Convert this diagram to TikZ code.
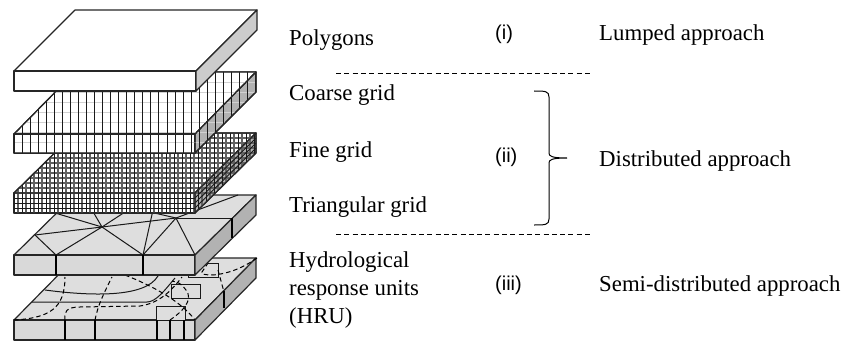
\documentclass[tikz,border=0pt]{standalone}
\usepackage{fontspec}
\setmainfont{Liberation Serif}
\newfontfamily\lblsans{Liberation Sans}
\begin{document}
\begin{tikzpicture}[x=1pt,y=-1pt,
  slabedge/.style={line width=1.2pt,black!85,line join=round},
  gridblack/.style={line width=.9pt,black!90},
  gridfaint/.style={line width=.8pt,black!18},
  gridmid/.style={line width=1.1pt,black!62},
  netline/.style={line width=1pt,black!90},
  thickv/.style={line width=1.6pt,black},
  dashln/.style={line width=1pt,black,dash pattern=on 4.5pt off 3pt},
  topfill/.style={fill=black!13},
  frontfill/.style={fill=black!15},
  sidefill/.style={fill=black!30},
  lbl/.style={font=\fontsize{22.8}{26}\selectfont,anchor=base west,inner sep=0pt},
  tagtxt/.style={font=\lblsans\fontsize{20}{24}\selectfont,anchor=base west,inner sep=0pt},
  ruleln/.style={line width=.8pt,black,dash pattern=on 5pt off 3.3pt}]
\useasboundingbox (0,0) rectangle (845,342);
\fill[white] (0,0) rectangle (845,342);
%
% ---- HRU slab
\filldraw[slabedge,topfill] (14,320) -- (75,258) -- (256,258) -- (195,320) -- cycle;
\filldraw[slabedge,frontfill] (14,320) rectangle (195,340);
\filldraw[slabedge,sidefill] (195,320) -- (256,258) -- (256,278) -- (195,340) -- cycle;
\draw[netline] (45,290) .. controls (90,296) and (145,298) .. (158,276);
\draw[netline] (32,302) -- (147,302) .. controls (156,302) and (165,290) .. (175,278);
\draw[netline] (188,263) rectangle (218,277);
\draw[netline,fill=black!13] (171,284) rectangle (200,298);
\draw[netline,fill=black!13] (156,306) rectangle (185,320);
\draw[dashln] (14,320) .. controls (50,318) and (65,308) .. (65,277);
\draw[dashln] (95,320) .. controls (98,305) and (103,295) .. (112,277);
\draw[dashln] (65,320) .. controls (64,312) and (66,307) .. (80,307) -- (140,306) .. controls (160,303) and (172,290) .. (182,277);
\draw[dashln] (125,275) .. controls (150,285) and (180,300) .. (195,320);
\draw[dashln] (170,320) .. controls (182,312) and (194,300) .. (186,290) .. controls (182,284) and (178,282) .. (172,281);
\draw[dashln] (257,258) .. controls (240,270) and (225,274) .. (213,275) .. controls (205,275) and (200,274) .. (202,272) -- (208,263);
\draw[dashln] (218,270) -- (224,292);
\draw[thickv] (65,320) -- (65,340) (95,320) -- (95,340) (157,320) -- (157,340) (170,320) -- (170,340) (184,320) -- (184,340);
\draw[thickv] (224,291) -- (224,308);
%
% ---- Triangular slab
\filldraw[slabedge,topfill] (14,255) -- (75,195) -- (256,195) -- (195,255) -- cycle;
\filldraw[slabedge,frontfill] (14,255) rectangle (195,275);
\filldraw[slabedge,sidefill] (195,255) -- (256,195) -- (256,215) -- (195,275) -- cycle;
\coordinate (tA) at (102,227);
\coordinate (tB) at (176,218);
\coordinate (tC) at (35,235);
\coordinate (tD) at (56,255);
\coordinate (tE) at (143,255);
\coordinate (tF) at (195,255);
\draw[netline] (tC) -- (tA) -- (tB) -- (238,195);
\draw[netline] (tB) -- (232,218);
\draw[netline] (55,213) -- (tA) -- (92,210);
\draw[netline] (125,212) -- (tA);
\draw[netline] (tC) -- (tD) -- (tA) -- (tE) -- (tB) -- (tF);
\draw[netline] (tE) -- (153,210);
\draw[netline] (tB) -- (150,212);
\draw[thickv] (56,255) -- (56,275) (143,255) -- (143,275);
\draw[thickv] (232,218) -- (232,238);
%
% ---- Fine grid slab
\filldraw[slabedge,fill=white] (14,193) -- (75,133) -- (256,133) -- (195,193) -- cycle;
\filldraw[slabedge,fill=white] (14,193) rectangle (195,213);
\filldraw[slabedge,sidefill] (195,193) -- (256,133) -- (256,153) -- (195,213) -- cycle;
\begin{scope}
  \clip (14,193) -- (75,133) -- (256,133) -- (256,153) -- (195,213) -- (14,213) -- cycle;
  \foreach \k in {0,...,31} \draw[gridmid] ({18+8*\k},130) -- ({18+8*\k},215);
  \foreach \k in {0,...,12} \draw[gridmid] (10,{133+5*\k}) -- (260,{133+5*\k});
  \foreach \k in {0,...,30} \draw[gridblack] ({14+8*\k},130) -- ({14+8*\k},215);
\end{scope}
\foreach \k in {1,2,3} \draw[gridblack] (14,{193+5*\k}) -- (195,{193+5*\k});
\draw[gridblack] (195,198) -- (256,138) (195,203) -- (256,143) (195,208) -- (256,148);
\draw[slabedge] (14,193) -- (75,133) -- (256,133) -- (256,153) -- (195,213) -- (14,213) -- cycle;
\draw[slabedge] (14,193) -- (195,193) -- (256,133) (195,193) -- (195,213);
%
% ---- Coarse grid slab
\filldraw[slabedge,fill=white] (14,134) -- (75,72) -- (256,72) -- (195,134) -- cycle;
\filldraw[slabedge,fill=white] (14,134) rectangle (195,153);
\filldraw[slabedge,sidefill] (195,134) -- (256,72) -- (256,92) -- (195,153) -- cycle;
\begin{scope}
  \clip (14,134) -- (75,72) -- (256,72) -- (256,92) -- (195,153) -- (14,153) -- cycle;
  \foreach \k in {0,...,8} \draw[gridfaint] (10,{72+10*\k}) -- (260,{72+10*\k});
  \foreach \k in {0,...,30} \draw[gridblack] ({14+8.05*\k},70) -- ({14+8.05*\k},155);
\end{scope}
\draw[slabedge] (14,134) -- (75,72) -- (256,72) -- (256,92) -- (195,153) -- (14,153) -- cycle;
\draw[slabedge] (14,134) -- (195,134) -- (256,72) (195,134) -- (195,153);
%
% ---- Top slab (polygons)
\filldraw[slabedge,fill=white] (14,71) -- (75,10) -- (257,10) -- (196,71) -- cycle;
\filldraw[slabedge,fill=white] (14,71) rectangle (196,91);
\filldraw[slabedge,fill=black!20] (196,71) -- (257,10) -- (257,30) -- (196,91) -- cycle;
%
% ---- Labels
\node[lbl] (polygons) at (289,46) {Polygons};
\node[lbl] (coarse) at (289,101) {Coarse grid};
\node[lbl] (fine) at (289,157) {Fine grid};
\node[lbl] (tri) at (289,212) {Triangular grid};
\node[lbl] (hyd) at (289,267) {Hydrological};
\node[lbl] (resp) at (289,295) {response units};
\node[lbl] (hru) at (289,323) {(HRU)};
\node[tagtxt] (i) at (495,40) {(i)};
\node[tagtxt] (ii) at (495,162) {(ii)};
\node[tagtxt] (iii) at (495,290) {(iii)};
\node[lbl] (lumped) at (599,41) {Lumped approach};
\node[lbl] (dist) at (599,166) {Distributed approach};
\node[lbl] (semi) at (599,291) {Semi-distributed approach};
%
% ---- Rules and brace
\coordinate (r1a) at (336,73); \coordinate (r1b) at (591,73);
\coordinate (r2a) at (336,234); \coordinate (r2b) at (591,234);
\draw[ruleln] (r1a) -- (r1b);
\draw[ruleln] (r2a) -- (r2b);
\coordinate (bT) at (534,91); \coordinate (bB) at (534,225); \coordinate (bM) at (567,158);
\draw[line width=1pt] (bT) .. controls (545,91) and (549,91) .. (549,97) -- (549,153) .. controls (549,156) and (551,158) .. (bM) .. controls (551,158) and (549,160) .. (549,163) -- (549,219) .. controls (549,225) and (545,225) .. (bB);
\end{tikzpicture}
\end{document}
